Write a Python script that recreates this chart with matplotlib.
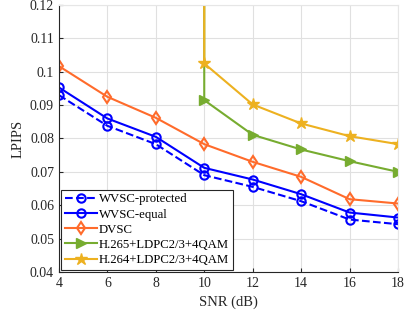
import matplotlib.pyplot as plt
import numpy as np

plt.rcParams['font.family'] = ['Liberation Serif', 'DejaVu Serif']

snr = [4, 6, 8, 10, 12, 14, 16, 18]
snr_h = [10, 10, 12, 14, 16, 18]  # digital schemes: cliff at 10 dB

wvsc_protected = [0.0930, 0.0838, 0.0783, 0.0690, 0.0655, 0.0612, 0.0557, 0.0543]
wvsc_equal = [0.0953, 0.0860, 0.0805, 0.0712, 0.0677, 0.0633, 0.0578, 0.0563]
dvsc = [0.1017, 0.0925, 0.0862, 0.0783, 0.0730, 0.0685, 0.0618, 0.0605]
h265 = [0.30, 0.0915, 0.0811, 0.0767, 0.0732, 0.0700]
h264 = [0.30, 0.1025, 0.0902, 0.0845, 0.0807, 0.0783]

labels = ['WVSC-protected', 'WVSC-equal', 'DVSC',
          'H.265+LDPC2/3+4QAM', 'H.264+LDPC2/3+4QAM']

blue = '#0000ff'
orange = '#ff6b2b'
green = '#77ac30'
yellow = '#edb120'

fig = plt.figure(figsize=(4.15, 3.18), dpi=100)
ax = fig.add_axes([0.142, 0.145, 0.817, 0.839])

ax.plot(snr, wvsc_protected, '--o', color=blue, lw=1.5, ms=6, mfc='none', mew=1.5, label=labels[0])
ax.plot(snr, wvsc_equal, '-o', color=blue, lw=1.5, ms=6, mfc='none', mew=1.5, label=labels[1])
ax.plot(snr, dvsc, '-d', color=orange, lw=1.5, ms=6, mfc='none', mew=1.5, label=labels[2])
ax.plot(snr_h, h265, '->', color=green, lw=1.5, ms=7, markevery=list(range(1, 6)), label=labels[3])
ax.plot(snr_h, h264, '-*', color=yellow, lw=1.5, ms=9, markevery=list(range(1, 6)), label=labels[4])

ax.set_xlim(4, 18)
ax.set_ylim(0.04, 0.12)
ax.set_xticks(np.arange(4, 19, 2))
ax.set_yticks([0.04, 0.05, 0.06, 0.07, 0.08, 0.09, 0.1, 0.11, 0.12])
ax.set_yticklabels(['0.04', '0.05', '0.06', '0.07', '0.08', '0.09', '0.1', '0.11', '0.12'])
ax.grid(True, color='#e0e0e0', lw=0.8)
ax.set_axisbelow(True)
for s in ['top', 'right']:
    ax.spines[s].set_color('#e6e6e6')
for s in ['left', 'bottom']:
    ax.spines[s].set_color('#262626')
ax.tick_params(labelsize=10, colors='#262626', direction='in', length=3)
ax.tick_params(top=False, right=False)
ax.set_xlabel('SNR (dB)', fontsize=10.5, color='#262626')
ax.set_ylabel('LPIPS', fontsize=10.5, color='#262626')

leg = ax.legend(loc='lower left', prop={'size': 9.2}, frameon=True, fancybox=False,
                borderaxespad=0.15, handlelength=2.5, handletextpad=0.2,
                labelspacing=0.25, borderpad=0.3)
leg.get_frame().set_edgecolor('#262626')
leg.get_frame().set_linewidth(0.8)
leg.get_frame().set_alpha(1)

fig.savefig('out.png', dpi=100)
